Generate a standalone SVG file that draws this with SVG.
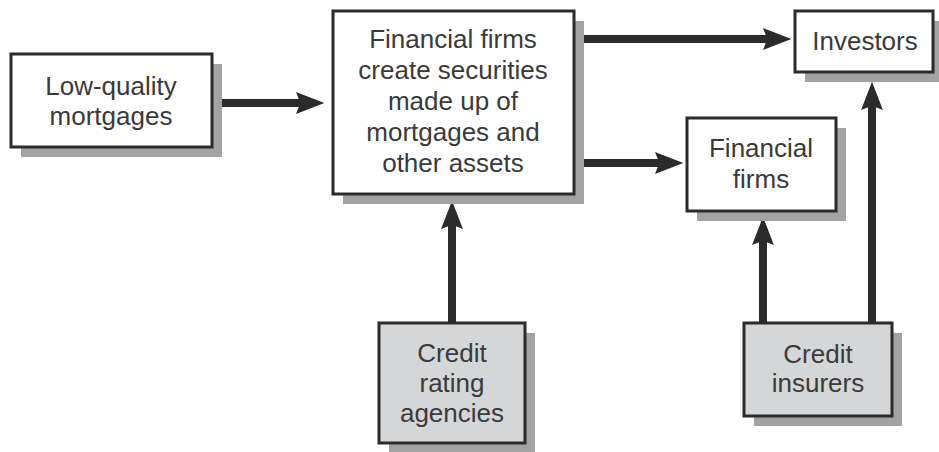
<svg xmlns="http://www.w3.org/2000/svg" width="939" height="452" viewBox="0 0 939 452">
  <style>
    .shadow { fill: #a3a3a3; }
    .box { fill: #ffffff; stroke: #2b2b2b; stroke-width: 3; }
    .box.agent { fill: #d5d6d8; }
    .label { font-family: "Liberation Sans", Arial, sans-serif; font-size: 26px; fill: #3a3a3a; text-anchor: middle; }
    .flow { stroke: #2b2b2b; stroke-width: 8; fill: none; marker-end: url(#head); }
  </style>
  <defs>
    <!-- barbed arrowhead; the tip sits 15px past the end of the line -->
    <marker id="head" markerUnits="userSpaceOnUse" markerWidth="30" markerHeight="24" viewBox="0 0 27 22" refX="11" refY="11" orient="auto">
      <path d="M0,1 L26,11 L0,21 L4,11 Z" fill="#2b2b2b"/>
    </marker>
  </defs>

  <rect width="939" height="452" fill="#ffffff"/>

  <g id="connectors">
    <line class="flow" x1="212" y1="103" x2="308" y2="103"/>
    <line class="flow" x1="574" y1="39" x2="775" y2="39"/>
    <line class="flow" x1="574" y1="163" x2="667" y2="163"/>
    <line class="flow" x1="452" y1="323" x2="452" y2="217"/>
    <line class="flow" x1="763" y1="323" x2="763" y2="233"/>
    <line class="flow" x1="872" y1="323" x2="872" y2="98"/>
  </g>

  <g id="low-quality-mortgages">
    <rect class="shadow" x="21" y="64" width="201" height="93"/>
    <rect class="box" x="11" y="54" width="201" height="93"/>
    <text class="label" x="111" y="95">Low-quality</text>
    <text class="label" x="111" y="125">mortgages</text>
  </g>

  <g id="securities">
    <rect class="shadow" x="343" y="21" width="241" height="183"/>
    <rect class="box" x="333" y="11" width="241" height="183"/>
    <text class="label" x="453" y="48">Financial firms</text>
    <text class="label" x="453" y="79">create securities</text>
    <text class="label" x="453" y="110">made up of</text>
    <text class="label" x="453" y="141">mortgages and</text>
    <text class="label" x="453" y="172">other assets</text>
  </g>

  <g id="investors">
    <rect class="shadow" x="805" y="21" width="138" height="61"/>
    <rect class="box" x="795" y="11" width="138" height="61"/>
    <text class="label" x="865" y="50">Investors</text>
  </g>

  <g id="financial-firms">
    <rect class="shadow" x="697" y="128" width="149" height="93"/>
    <rect class="box" x="687" y="118" width="149" height="93"/>
    <text class="label" x="761" y="157">Financial</text>
    <text class="label" x="761" y="188">firms</text>
  </g>

  <g id="credit-rating-agencies">
    <rect class="shadow" x="389" y="333" width="146" height="120"/>
    <rect class="box agent" x="379" y="323" width="146" height="120"/>
    <text class="label" x="452" y="362">Credit</text>
    <text class="label" x="452" y="392">rating</text>
    <text class="label" x="452" y="422">agencies</text>
  </g>

  <g id="credit-insurers">
    <rect class="shadow" x="754" y="333" width="148" height="93"/>
    <rect class="box agent" x="744" y="323" width="148" height="93"/>
    <text class="label" x="818" y="363">Credit</text>
    <text class="label" x="818" y="392">insurers</text>
  </g>
</svg>
